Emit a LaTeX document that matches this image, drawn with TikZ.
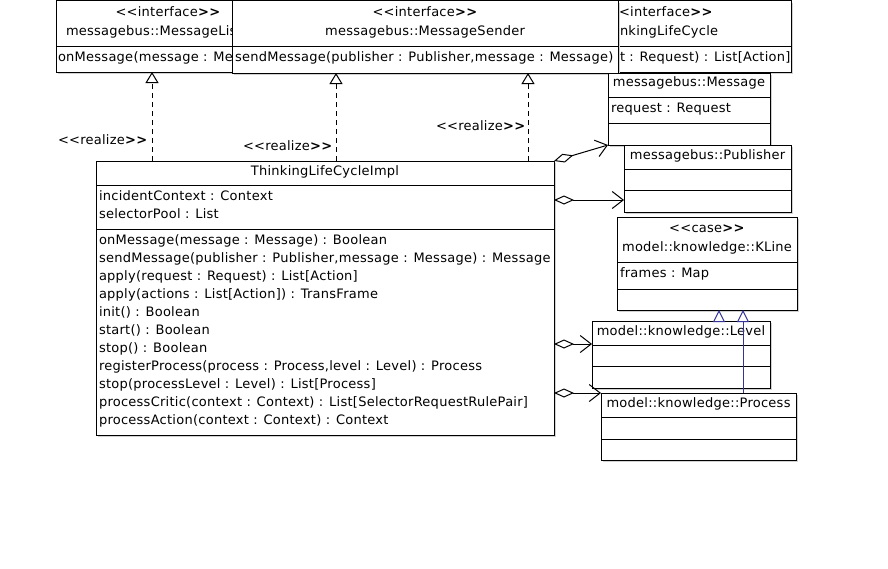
\documentclass[tikz,border=0pt]{standalone}
\usepackage{fontspec}
\newfontfamily\umlfont[LetterSpace=2]{DejaVu Sans}
\usetikzlibrary{arrows.meta}
\definecolor{navy}{RGB}{51,51,153}

% class box: name, x1, y1, x2, y2 (pixel-like units, y grows downward)
\newcommand\umlclass[5]{%
  \fill[boxshadow] (#2+2,#3+2) rectangle (#4+2,#5+2);
  \node[classbox, minimum width=#4-#2, minimum height=#5-#3] (#1) at (#2,#3) {};}
% compartment separator inside a box
\newcommand\umlsep[2]{\draw[line width=1pt] (#1.west |- 0,#2) -- (#1.east |- 0,#2);}

\begin{document}
\begin{tikzpicture}[x=1pt,y=-1pt,
  every node/.style={inner sep=0pt, outer sep=0pt},
  txt/.style={font=\umlfont\fontsize{13}{15}\selectfont, anchor=base west},
  ctxt/.style={txt, anchor=base},
  classbox/.style={draw=black, fill=white, line width=1pt, anchor=north west},
  boxshadow/.style={fill=black!18},
  realize/.style={line width=1pt, dash pattern=on 5pt off 4pt,
    -{Triangle[open,length=11pt,width=13pt]}},
  agg/.style={line width=1pt,
    {Diamond[open,length=20pt,width=9pt]}-{Straight Barb[length=11pt,width=17pt]}},
  gen/.style={line width=1pt, draw=navy,
    -{Triangle[open,length=12pt,width=12pt]}}]

\fill[white] (0,0) rectangle (888,568);
\useasboundingbox (0,0) rectangle (888,568);

% interface MessageListener (partly hidden)
\umlclass{ml}{56}{0.5}{280}{72}
\umlsep{ml}{46}
\node[ctxt] (mlster) at (168,16) {<<interface\textbf{>>}};
\node[txt] (mlname) at (66,35) {messagebus::MessageLis};
\node[txt] (mlop) at (58,61) {onMessage(message : Me};

% interface ThinkingLifeCycle (partly hidden)
\umlclass{tlc}{529}{0.5}{791}{72}
\umlsep{tlc}{46}
\node[txt] (tlcster) at (619,16) {<interface\textbf{>>}};
\node[txt] (tlcname) at (620,35) {nkingLifeCycle};
\node[txt] (tlcop) at (620,61) {t : Request) : List[Action]};

% interface MessageSender
\umlclass{ms}{232}{0.5}{618}{73}
\umlsep{ms}{46}
\node[ctxt] (msster) at (425,16) {<<interface\textbf{>>}};
\node[ctxt] (msname) at (425,35) {messagebus::MessageSender};
\node[txt] (msop) at (235,61) {sendMessage(publisher : Publisher,message : Message)};

% class Message
\umlclass{msg}{608}{73}{770}{145}
\umlsep{msg}{97}
\umlsep{msg}{123}
\node[ctxt] (msgname) at (689,86) {messagebus::Message};
\node[txt] (msgat) at (611,112) {request : Request};

% class Publisher
\umlclass{pub}{624}{145}{791}{212}
\umlsep{pub}{169}
\umlsep{pub}{190}
\node[ctxt] (pubname) at (707.5,159) {messagebus::Publisher};

% case KLine
\umlclass{kline}{617}{217}{797}{310}
\umlsep{kline}{262}
\umlsep{kline}{289}
\node[ctxt] (klster) at (707,232) {<<case\textbf{>>}};
\node[ctxt] (klname) at (707,251) {model::knowledge::KLine};
\node[txt] (klat) at (620,277) {frames : Map};

% class Level
\umlclass{lvl}{592}{321}{770}{388}
\umlsep{lvl}{345}
\umlsep{lvl}{366}
\node[ctxt] (lvlname) at (681,335) {model::knowledge::Level};

% class Process
\umlclass{proc}{601}{393}{796}{460}
\umlsep{proc}{417}
\umlsep{proc}{439}
\node[ctxt] (procname) at (698.5,407) {model::knowledge::Process};

% class ThinkingLifeCycleImpl
\umlclass{impl}{96}{161}{554}{435}
\umlsep{impl}{185}
\umlsep{impl}{229}
\node[ctxt] (implname) at (325,175) {ThinkingLifeCycleImpl};
\node[txt] (ia1) at (99,200) {incidentContext : Context};
\node[txt] (ia2) at (99,218) {selectorPool : List};
\node[txt] (io1) at (99,244) {onMessage(message : Message) : Boolean};
\node[txt] (io2) at (99,262) {sendMessage(publisher : Publisher,message : Message) : Message};
\node[txt] (io3) at (99,280) {apply(request : Request) : List[Action]};
\node[txt] (io4) at (99,298) {apply(actions : List[Action]) : TransFrame};
\node[txt] (io5) at (99,316) {init() : Boolean};
\node[txt] (io6) at (99,334) {start() : Boolean};
\node[txt] (io7) at (99,352) {stop() : Boolean};
\node[txt] (io8) at (99,370) {registerProcess(process : Process,level : Level) : Process};
\node[txt] (io9) at (99,388) {stop(processLevel : Level) : List[Process]};
\node[txt] (io10) at (99,406) {processCritic(context : Context) : List[SelectorRequestRulePair]};
\node[txt] (io11) at (99,424) {processAction(context : Context) : Context};

% realizations
\draw[realize] (impl.north -| 152,0) -- (ml.south -| 152,0);
\draw[realize] (impl.north -| 336,0) -- (ms.south -| 336,0);
\draw[realize] (impl.north -| 528,0) -- (ms.south -| 528,0);
\node[txt] (rl1) at (58,144) {<<realize\textbf{>>}};
\node[txt] (rl2) at (243,150) {<<realize\textbf{>>}};
\node[txt] (rl3) at (436,130) {<<realize\textbf{>>}};

% aggregations
\draw[agg] (impl.north east) -- (msg.south west);
\draw[agg] (impl.east |- 0,200) -- (pub.west |- 0,200);
\draw[agg] (impl.east |- 0,344) -- (lvl.west |- 0,344);
\draw[agg] (impl.east |- 0,393) -- (proc.north west);

% generalizations
\draw[gen] (lvl.north -| 719,0) -- (kline.south -| 719,0);
\draw[gen] (proc.north -| 743,0) -- (kline.south -| 743,0);
\end{tikzpicture}
\end{document}
